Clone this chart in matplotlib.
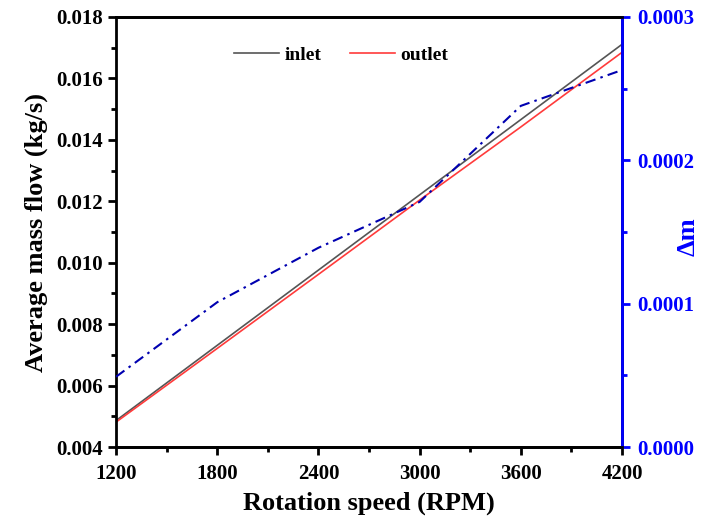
import os
os.environ.setdefault("MPLBACKEND", "Agg")
import matplotlib.pyplot as plt
from matplotlib.ticker import MultipleLocator, FormatStrFormatter

# values
rpm = [1200, 1800, 2400, 3000, 3600, 4200]
inlet = [0.00486, 0.00731, 0.00976, 0.01221, 0.01466, 0.01711]
outlet = [0.00481, 0.00721, 0.00962, 0.01204, 0.01442, 0.01685]
delta_m = [0.000049, 0.000101, 0.000139, 0.000171, 0.000238, 0.000263]

x_ticks = [1200, 1800, 2400, 3000, 3600, 4200]

BLUE = "#0000ff"
plt.rcParams["font.family"] = ["Liberation Serif", "DejaVu Serif"]
plt.rcParams["font.weight"] = "bold"

fig = plt.figure(figsize=(7.1, 5.23), dpi=100)
ax = fig.add_axes([0.1634, 0.1453, 0.7127, 0.8222])

ax.plot(rpm, inlet, color="#555555", linewidth=1.2, label="inlet")
ax.plot(rpm, outlet, color="#ff3b3b", linewidth=1.2, label="outlet")
ax.set_xlim(1200, 4200)
ax.set_ylim(0.004, 0.018)
ax.set_xticks(x_ticks)
ax.xaxis.set_minor_locator(MultipleLocator(300))
ax.yaxis.set_major_locator(MultipleLocator(0.002))
ax.yaxis.set_minor_locator(MultipleLocator(0.001))
ax.yaxis.set_major_formatter(FormatStrFormatter("%.3f"))
ax.tick_params(which="major", direction="out", length=6, width=2, labelsize=15)
ax.tick_params(which="minor", direction="out", length=3.5, width=2)
ax.tick_params(axis="x", which="major", pad=6)
for lab in ax.get_xticklabels() + ax.get_yticklabels():
    lab.set_fontweight("bold")
for s in ax.spines.values():
    s.set_linewidth(2)
ax.set_xlabel("Rotation speed (RPM)", fontsize=19, fontweight="bold", labelpad=6)
ax.set_ylabel("Average mass flow (kg/s)", fontsize=19, fontweight="bold", labelpad=6)

ax2 = ax.twinx()
ax2.plot(rpm, delta_m, color="#0000b0", linewidth=1.5,
         linestyle=(0, (5, 2.5, 1.2, 2.5)))
ax2.set_ylim(0, 0.0003)
ax2.yaxis.set_major_locator(MultipleLocator(0.0001))
ax2.yaxis.set_minor_locator(MultipleLocator(0.00005))
ax2.yaxis.set_major_formatter(FormatStrFormatter("%.4f"))
ax2.tick_params(which="major", direction="out", length=6, width=2, labelsize=15,
                colors=BLUE, pad=5)
ax2.tick_params(which="minor", direction="out", length=3.5, width=2, colors=BLUE)
for lab in ax2.get_yticklabels():
    lab.set_fontweight("bold")
for s in ax2.spines.values():
    s.set_linewidth(2)
ax2.spines["right"].set_color(BLUE)
ax2.spines["left"].set_visible(False)
ax2.set_ylabel("Δm", fontsize=19, fontweight="bold", color=BLUE, va="center")
ax2.yaxis.set_label_coords(1.13, 0.49)

ax.legend(loc="center", bbox_to_anchor=(0.445, 0.912), ncol=2, frameon=False,
          prop={"size": 14, "weight": "bold"}, handlelength=2.3,
          handletextpad=0.3, columnspacing=1.45)

fig.savefig("out.png", dpi=100)
